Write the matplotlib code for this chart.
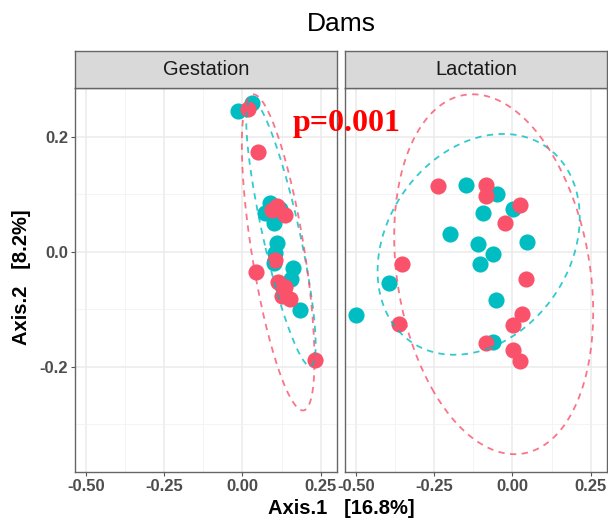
import numpy as np
import matplotlib
matplotlib.use("Agg")
import matplotlib.pyplot as plt

plt.rcParams["font.family"] = ["Liberation Sans", "DejaVu Sans"]

# PCoA scores, per facet and per group
panels = ["Gestation", "Lactation"]

gest_teal_x = [-0.013, 0.032, 0.087, 0.071, 0.101, 0.110, 0.105, 0.100, 0.160, 0.156, 0.185, 0.120, 0.125]
gest_teal_y = [0.245, 0.259, 0.085, 0.068, 0.050, 0.016, -0.002, -0.020, -0.028, -0.048, -0.102, 0.075, -0.060]
gest_red_x = [0.019, 0.049, 0.110, 0.094, 0.135, 0.103, 0.043, 0.113, 0.136, 0.125, 0.152, 0.231]
gest_red_y = [0.249, 0.174, 0.079, 0.072, 0.064, -0.015, -0.035, -0.052, -0.061, -0.076, -0.082, -0.189]

lact_teal_x = [-0.500, -0.393, -0.201, -0.147, -0.051, -0.094, 0.002, -0.110, -0.062, -0.105, 0.045, -0.054, -0.062]
lact_teal_y = [-0.110, -0.054, 0.031, 0.116, 0.101, 0.068, 0.074, 0.013, -0.003, -0.021, 0.017, -0.084, -0.157]
lact_red_x = [-0.238, -0.083, -0.083, 0.024, -0.025, -0.354, -0.361, 0.042, 0.029, 0.002, -0.083, 0.002, 0.024]
lact_red_y = [0.114, 0.117, 0.097, 0.082, 0.050, -0.022, -0.125, -0.048, -0.109, -0.128, -0.158, -0.171, -0.190]

# 95% ellipses: centre and shape matrix (sxx, syy, sxy)
gest_teal_ell = [0.123, 0.033, 0.0123, 0.0538, -0.0216]
gest_red_ell = [0.114, -0.001, 0.01346, 0.0756, -0.0217]
lact_teal_ell = [-0.108, 0.013, 0.1043, 0.0369, 0.0150]
lact_red_ell = [-0.060, -0.039, 0.1011, 0.0980, -0.0210]

x_ticks = [-0.50, -0.25, 0.00, 0.25]
x_labels = ["-0.50", "-0.25", "0.00", "0.25"]
y_ticks = [-0.2, 0.0, 0.2]
y_labels = ["-0.2", "0.0", "0.2"]

teal = "#00BDC2"
red = "#F9526A"


def ellipse_xy(params):
    cx, cy, sxx, syy, sxy = params
    vals, vecs = np.linalg.eigh(np.array([[sxx, sxy], [sxy, syy]]))
    t = np.linspace(0, 2 * np.pi, 200)
    circ = np.vstack([np.cos(t), np.sin(t)])
    pts = vecs @ (np.sqrt(vals)[:, None] * circ)
    return cx + pts[0], cy + pts[1]


fig = plt.figure(figsize=(6.08, 5.23), dpi=100)

W, H = 608, 523
lefts = [75, 345]
pw = 262
top, bottom = 88, 472
strip_top = 51

data = [
    (gest_teal_x, gest_teal_y, gest_red_x, gest_red_y, gest_teal_ell, gest_red_ell),
    (lact_teal_x, lact_teal_y, lact_red_x, lact_red_y, lact_teal_ell, lact_red_ell),
]

for i, name in enumerate(panels):
    tx, ty, rx, ry, tell, rell = data[i]
    ax = fig.add_axes([lefts[i] / W, 1 - bottom / H, pw / W, (bottom - top) / H])
    ax.set_xlim(-0.535, 0.302)
    ax.set_ylim(-0.383, 0.285)

    ax.set_xticks(x_ticks)
    ax.set_xticklabels(x_labels)
    ax.set_xticks([-0.375, -0.125, 0.125], minor=True)
    ax.set_yticks(y_ticks)
    ax.set_yticklabels(y_labels)
    ax.set_yticks([-0.3, -0.1, 0.1], minor=True)
    ax.grid(True, which="major", color="#EBEBEB", lw=1.1, zorder=0)
    ax.grid(True, which="minor", color="#F2F2F2", lw=0.6, zorder=0)
    ax.set_axisbelow(True)
    ax.tick_params(which="minor", length=0)
    ax.tick_params(which="major", length=3, width=0.8, color="#555555",
                   labelsize=12, labelcolor="#4D4D4D", pad=2)
    for lab in ax.get_xticklabels() + ax.get_yticklabels():
        lab.set_fontweight("bold")
    if i == 1:
        ax.tick_params(axis="y", labelleft=False, length=0)
    for sp in ax.spines.values():
        sp.set_color("#666666")
        sp.set_linewidth(1.0)

    ax.scatter(tx, ty, s=135, color=teal, linewidths=0, zorder=3)
    ax.scatter(rx, ry, s=135, color=red, linewidths=0, zorder=4)

    ex, ey = ellipse_xy(tell)
    ax.plot(ex, ey, color=teal, lw=1.3, dashes=(3.5, 3), zorder=5, alpha=0.8)
    ex, ey = ellipse_xy(rell)
    ax.plot(ex, ey, color=red, lw=1.3, dashes=(3.5, 3), zorder=5, alpha=0.8)

    # facet strip
    sax = fig.add_axes([lefts[i] / W, 1 - top / H, pw / W, (top - strip_top) / H])
    sax.set_facecolor("#D9D9D9")
    sax.set_xticks([])
    sax.set_yticks([])
    for sp in sax.spines.values():
        sp.set_color("#666666")
        sp.set_linewidth(1.0)
    sax.text(0.5, 0.5, name, ha="center", va="center", fontsize=14.5,
             color="#1A1A1A", transform=sax.transAxes)

fig.text(341 / W, 1 - 24 / H, "Dams", ha="center", va="center", fontsize=19)
fig.text(341 / W, 1 - 509 / H, "Axis.1   [16.8%]", ha="center", va="center",
         fontsize=14.5, fontweight="bold")
fig.text(22 / W, 1 - 277 / H, "Axis.2   [8.2%]", ha="center", va="center",
         fontsize=14.5, fontweight="bold", rotation=90)
fig.text(293 / W, 1 - 131 / H, "p=0.001", ha="left", va="baseline",
         fontsize=23, fontweight="bold", color="#FF0000",
         family=["Liberation Serif", "DejaVu Serif"])

fig.savefig("out.png", dpi=100)
